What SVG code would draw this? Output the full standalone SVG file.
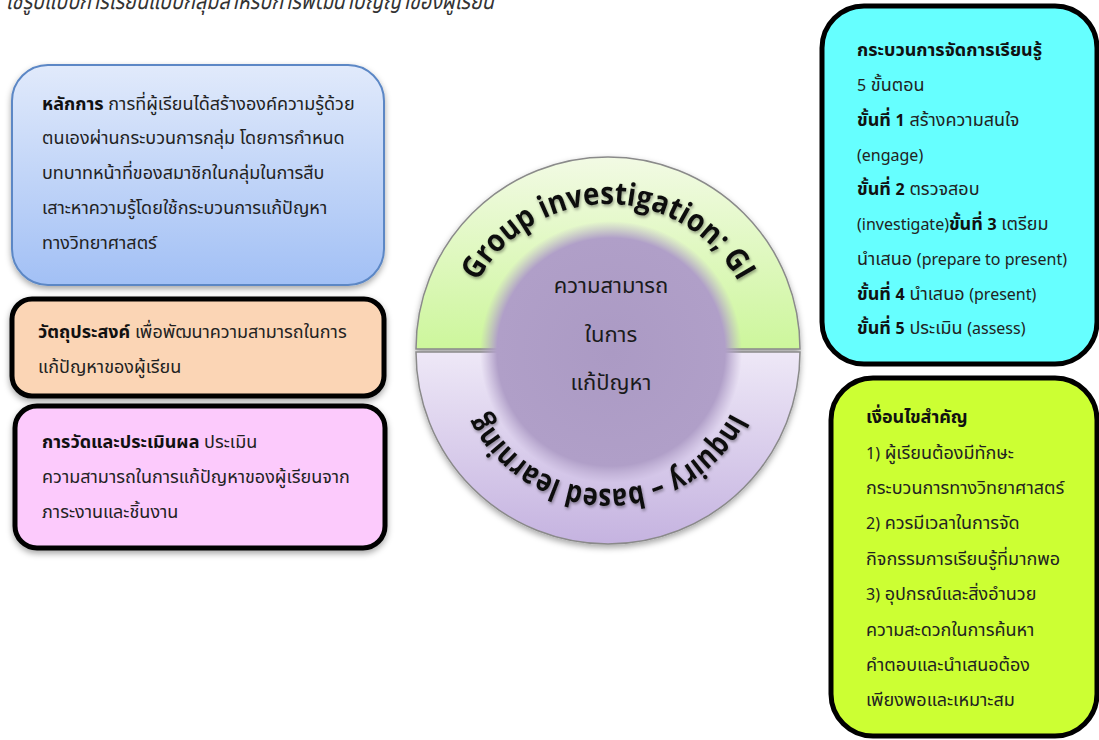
<svg xmlns="http://www.w3.org/2000/svg" width="1099" height="740" viewBox="0 0 1099 740">
<defs>
<style>
.t{font-family:"Noto Sans","Noto Sans Thai","Leelawadee UI",Tahoma,sans-serif;font-size:18px;fill:#222}
.l{font-size:16px}
.b{font-weight:bold;fill:#111}
.c{font-family:"Noto Sans","Noto Sans Thai",sans-serif;font-size:22px;fill:#1a1a1a;text-anchor:middle}
.arc{font-family:"Open Sans","Noto Sans",sans-serif;font-weight:bold;font-size:31px;fill:#111}
.title{font-family:"Noto Sans","Noto Sans Thai",sans-serif;font-size:23px;font-style:italic;fill:#333}
</style>
<linearGradient id="gBlue" x1="0" y1="0" x2="0" y2="1"><stop offset="0" stop-color="#e1eafb"/><stop offset="1" stop-color="#a2c0f5"/></linearGradient>
<linearGradient id="gGreen" x1="0" y1="0" x2="0" y2="1"><stop offset="0" stop-color="#f2fae4"/><stop offset="1" stop-color="#cdf69c"/></linearGradient>
<linearGradient id="gLav" x1="0" y1="0" x2="0" y2="1"><stop offset="0" stop-color="#eee8f7"/><stop offset="1" stop-color="#c5b3e0"/></linearGradient>
<radialGradient id="gInner" cx="0.5" cy="0.5" r="0.5"><stop offset="0" stop-color="#ab9ac4"/><stop offset="0.87" stop-color="#b09fc8"/><stop offset="1" stop-color="#b8a8cd" stop-opacity="0"/></radialGradient>
<filter id="sh" x="-10%" y="-10%" width="120%" height="130%"><feDropShadow dx="0" dy="3" stdDeviation="3" flood-color="#000" flood-opacity="0.35"/></filter>
<filter id="tsh" x="-10%" y="-20%" width="120%" height="140%"><feDropShadow dx="1" dy="2" stdDeviation="1.5" flood-color="#000" flood-opacity="0.35"/></filter>
<path id="arcTop" d="M 460,352 A 148 148 0 0 1 756,352"/>
<path id="arcBot" d="M 745,352 A 137 137 0 0 1 471,352"/>
</defs>

<text class="title" x="6" y="9" textLength="488" lengthAdjust="spacingAndGlyphs">ใช้รูปแบบการเรียนแบบกลุ่มสำหรับการพัฒนาปัญญาของผู้เรียน</text>

<g id="node-principle">
<rect x="12" y="65" width="372" height="220" rx="36" fill="url(#gBlue)" stroke="#5b87c5" stroke-width="2" filter="url(#sh)"/>
<text class="t" x="42" y="110"><tspan class="b">หลักการ</tspan> การที่ผู้เรียนได้สร้างองค์ความรู้ด้วย</text>
<text class="t" x="42" y="144">ตนเองผ่านกระบวนการกลุ่ม โดยการกำหนด</text>
<text class="t" x="42" y="179">บทบาทหน้าที่ของสมาชิกในกลุ่มในการสืบ</text>
<text class="t" x="42" y="214">เสาะหาความรู้โดยใช้กระบวนการแก้ปัญหา</text>
<text class="t" x="42" y="249">ทางวิทยาศาสตร์</text>
</g>

<g id="node-objective">
<rect x="12" y="299" width="372" height="97" rx="20" fill="#fbd5b5" stroke="#000" stroke-width="5" filter="url(#sh)"/>
<text class="t" x="38" y="338"><tspan class="b">วัตถุประสงค์</tspan> เพื่อพัฒนาความสามารถในการ</text>
<text class="t" x="38" y="373">แก้ปัญหาของผู้เรียน</text>
</g>

<g id="node-evaluation">
<rect x="15" y="406" width="370" height="142" rx="22" fill="#fccafc" stroke="#000" stroke-width="5" filter="url(#sh)"/>
<text class="t" x="42" y="448"><tspan class="b">การวัดและประเมินผล</tspan> ประเมิน</text>
<text class="t" x="42" y="483">ความสามารถในการแก้ปัญหาของผู้เรียนจาก</text>
<text class="t" x="42" y="518">ภาระงานและชิ้นงาน</text>
</g>

<g id="node-center">
<path d="M 416,349 A 192 192 0 0 1 800,349 Z" fill="url(#gGreen)" stroke="#8a8a8a" stroke-width="1.5" filter="url(#sh)"/>
<path d="M 416,352 A 192 192 0 0 0 800,352 Z" fill="url(#gLav)" stroke="#8a8a8a" stroke-width="1.5" filter="url(#sh)"/>
<circle cx="611" cy="352" r="131" fill="url(#gInner)"/>
<text class="arc" filter="url(#tsh)"><textPath href="#arcTop" startOffset="50%" text-anchor="middle" textLength="318" lengthAdjust="spacingAndGlyphs">Group investigation; GI</textPath></text>
<text class="arc" filter="url(#tsh)"><textPath href="#arcBot" startOffset="50%" text-anchor="middle" textLength="305" lengthAdjust="spacingAndGlyphs">Inquiry – based learning</textPath></text>
<text class="c" x="611" y="293">ความสามารถ</text>
<text class="c" x="611" y="342">ในการ</text>
<text class="c" x="611" y="390">แก้ปัญหา</text>
</g>

<g id="node-process">
<rect x="822" y="6" width="275" height="358" rx="42" fill="#66ffff" stroke="#000" stroke-width="5"/>
<text class="t" x="857" y="56"><tspan class="b">กระบวนการจัดการเรียนรู้</tspan></text>
<text class="t" x="857" y="91"><tspan class="l">5</tspan> ขั้นตอน</text>
<text class="t" x="857" y="126"><tspan class="b">ขั้นที่ <tspan class="l">1</tspan></tspan> สร้างความสนใจ</text>
<text class="t" x="857" y="161"><tspan class="l">(engage)</tspan></text>
<text class="t" x="857" y="195"><tspan class="b">ขั้นที่ <tspan class="l">2</tspan></tspan> ตรวจสอบ</text>
<text class="t" x="857" y="230"><tspan class="l">(investigate)</tspan><tspan class="b">ขั้นที่ <tspan class="l">3</tspan></tspan> เตรียม</text>
<text class="t" x="857" y="265">นำเสนอ <tspan class="l">(prepare to present)</tspan></text>
<text class="t" x="857" y="300"><tspan class="b">ขั้นที่ <tspan class="l">4</tspan></tspan> นำเสนอ <tspan class="l">(present)</tspan></text>
<text class="t" x="857" y="334"><tspan class="b">ขั้นที่ <tspan class="l">5</tspan></tspan> ประเมิน <tspan class="l">(assess)</tspan></text>
</g>

<g id="node-conditions">
<rect x="831" y="378" width="266" height="358" rx="42" fill="#ccff33" stroke="#000" stroke-width="5"/>
<text class="t" x="866" y="423"><tspan class="b">เงื่อนไขสำคัญ</tspan></text>
<text class="t" x="866" y="459"><tspan class="l">1)</tspan> ผู้เรียนต้องมีทักษะ</text>
<text class="t" x="866" y="494">กระบวนการทางวิทยาศาสตร์</text>
<text class="t" x="866" y="529"><tspan class="l">2)</tspan> ควรมีเวลาในการจัด</text>
<text class="t" x="866" y="565">กิจกรรมการเรียนรู้ที่มากพอ</text>
<text class="t" x="866" y="600"><tspan class="l">3)</tspan> อุปกรณ์และสิ่งอำนวย</text>
<text class="t" x="866" y="636">ความสะดวกในการค้นหา</text>
<text class="t" x="866" y="671">คำตอบและนำเสนอต้อง</text>
<text class="t" x="866" y="706">เพียงพอและเหมาะสม</text>
</g>

<g id="connectors"></g>
</svg>
